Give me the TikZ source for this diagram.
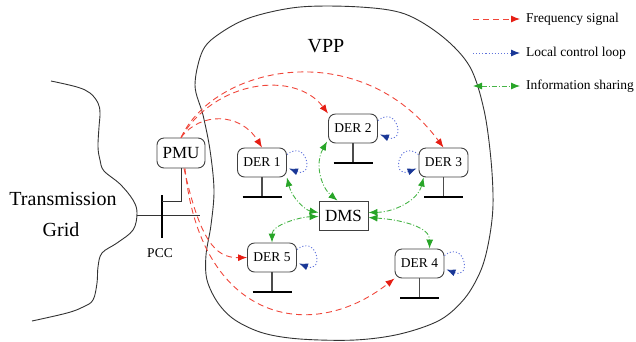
\documentclass[tikz,border=0pt]{standalone}
\usepackage{fontspec}
\setmainfont{Liberation Serif}
\usetikzlibrary{arrows.meta,calc}
\definecolor{fred}{RGB}{240,70,58}
\definecolor{fredh}{RGB}{230,30,20}
\definecolor{fblue}{RGB}{95,115,220}
\definecolor{fblueh}{RGB}{25,55,150}
\definecolor{fgreen}{RGB}{70,180,70}
\definecolor{fgreenh}{RGB}{40,165,40}
\tikzset{
  derbox/.style={draw=black!75, line width=0.9pt, rounded corners=7pt, minimum width=49pt, minimum height=29pt, inner sep=1pt, font=\fontsize{13.5}{15}\selectfont},
  bigtxt/.style={font=\fontsize{17}{19}\selectfont},
  stem/.style={draw=black!70, line width=1.1pt},
  groundbar/.style={draw=black, line width=2pt},
  freq/.style={draw=fred, line width=0.9pt, dash pattern=on 6pt off 4pt, -{Latex[length=9pt,width=7pt,color=fredh]}},
  ctrl/.style={draw=fblue, line width=0.9pt, dash pattern=on 1.1pt off 2pt, -{Latex[length=9pt,width=7pt,color=fblueh]}},
  info/.style={draw=fgreen, line width=0.9pt, dash pattern=on 5pt off 2pt on 1pt off 2pt, {Latex[length=9pt,width=7pt,color=fgreenh]}-{Latex[length=9pt,width=7pt,color=fgreenh]}},
  legtxt/.style={anchor=west, inner sep=0pt, font=\fontsize{13.5}{15}\selectfont},
  border/.style={draw=black!80, line width=0.9pt}
}
\begin{document}
\begin{tikzpicture}[x=1pt,y=-1pt]
\useasboundingbox (0,0) rectangle (636,341);

% transmission grid boundary
\draw[border] plot[smooth, tension=0.6] coordinates {(51,81) (77,87) (90,93) (98,103) (100,113) (99,127) (98,147) (100,160) (104,171) (120,184) (133,200) (137,213) (133,230) (117,243) (102,253) (98,267) (97,283) (93,300) (83,307) (67,313) (32,321)};

% VPP boundary
\draw[border] plot[smooth cycle, tension=0.55] coordinates {(195,85) (203,50) (222,32) (252,17) (300,7) (360,7) (405,14) (443,37) (470,67) (484,110) (491,160) (493,205) (489,240) (481,270) (465,298) (440,320) (400,334) (355,340) (300,339) (263,333) (235,320) (218,303) (207,280) (206,255) (211,225) (214,190) (210,150) (203,115)};

% texts
\node[font=\fontsize{20}{22}\selectfont] (vpp) at (326,46) {VPP};
\node[font=\fontsize{20}{22}\selectfont] (tx) at (63,199) {Transmission};
\node[font=\fontsize{20}{22}\selectfont] (grid) at (61,230) {Grid};
\node[font=\fontsize{13.5}{15}\selectfont] (pcclbl) at (160,253) {PCC};

% nodes
\node[derbox,bigtxt,minimum width=48pt,minimum height=30pt] (pmu) at (181,153) {PMU};
\node[derbox] (der1) at (262,162.5) {DER 1};
\node[derbox] (der2) at (353,128.5) {DER 2};
\node[derbox] (der3) at (443.5,162.5) {DER 3};
\node[derbox] (der5) at (272,257.5) {DER 5};
\node[derbox] (der4) at (419.5,263.5) {DER 4};
\node[draw=black!75, line width=0.9pt, minimum width=49pt, minimum height=29pt, inner sep=1pt, bigtxt] (dms) at (343.5,215.5) {DMS};

% stems and bars
\foreach \n in {der1,der2,der3,der5,der4}{
  \draw[stem] (\n.south) -- ++(0,19.5) coordinate (\n b);
  \draw[groundbar] ($(\n b)+(-19.5,0)$) -- ($(\n b)+(19.5,0)$);
}

% PCC
\coordinate (gridpt) at (137,215);
\coordinate (pccend) at (200,215);
\coordinate (bustop) at (162,195);
\coordinate (busbot) at (162,238);
\coordinate (pmujoin) at (162,201);
\draw[border] (gridpt) -- (pccend);
\draw[groundbar] (bustop) -- (busbot);
\draw[border] (pmu.south) |- (pmujoin);

% frequency signals
\draw[freq] (pmu.north) .. controls (200,112) and (240,112) .. (der1.north);
\draw[freq] (pmu.north) .. controls (215,80) and (295,70) .. (der2.north west);
\draw[freq] (pmu.north) .. controls (215,65) and (360,35) .. (der3.north);
\draw[freq] ($(pmu.south)+(3,0)$) .. controls (200,240) and (215,258) .. (der5.west);
\draw[freq] ($(pmu.south)+(4,0)$) .. controls (200,320) and (310,345) .. (der4.south west);

% local control loops
\draw[ctrl] ($(der1.east)+(0,-8)$) .. controls +(20,-16) and +(26,10) .. ($(der1.east)+(2,6)$);
\draw[ctrl] ($(der2.east)+(0,-8)$) .. controls +(20,-16) and +(26,10) .. ($(der2.east)+(2,6)$);
\draw[ctrl] ($(der5.east)+(0,-8)$) .. controls +(20,-16) and +(26,10) .. ($(der5.east)+(2,6)$);
\draw[ctrl] ($(der4.east)+(0,-8)$) .. controls +(20,-16) and +(26,10) .. ($(der4.east)+(2,6)$);
\draw[ctrl] ($(der3.west)+(0,-8)$) .. controls +(-20,-16) and +(-26,10) .. ($(der3.west)+(-2,6)$);

% information sharing
\draw[info] (der1.south east) .. controls (292,198) and (305,210) .. ($(dms.west)+(0,-3)$);
\draw[info] (der5.north) .. controls (272,225) and (300,217) .. ($(dms.west)+(0,1)$);
\draw[info] ($(der2.south west)+(-1,-2)$) .. controls (314,165) and (322,188) .. ($(dms.north)+(-6,0)$);
\draw[info] ($(der3.south west)+(5,0)$) .. controls (418,200) and (395,212) .. ($(dms.east)+(0,-3)$);
\draw[info] ($(dms.east)+(0,2)$) .. controls (405,220) and (430,228) .. ($(der4.north)+(10,0)$);

% legend
\coordinate (l1a) at (473,19); \coordinate (l1b) at (520,19);
\coordinate (l2a) at (473,53); \coordinate (l2b) at (520,53);
\coordinate (l3a) at (473,86); \coordinate (l3b) at (520,86);
\draw[freq] (l1a) -- (l1b);
\draw[ctrl] (l2a) -- (l2b);
\draw[info] (l3a) -- (l3b);
\node[legtxt] (t1) at (526,19) {Frequency signal};
\node[legtxt] (t2) at (526,53) {Local control loop};
\node[legtxt] (t3) at (526,86) {Information sharing};
\end{tikzpicture}
\end{document}
